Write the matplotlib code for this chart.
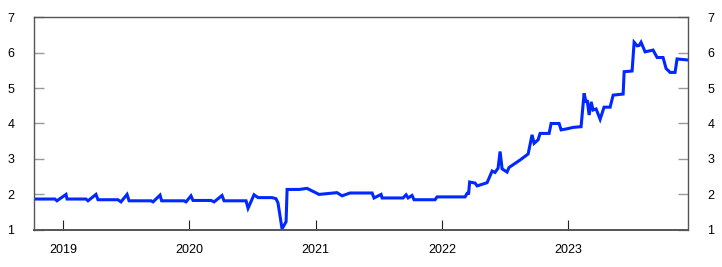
import numpy as np
import matplotlib
matplotlib.use("Agg")
import matplotlib.pyplot as plt

plt.rcParams['font.family'] = ['Liberation Sans', 'DejaVu Sans']

# time as decimal years, value in percent
years = [2018.770, 2018.936, 2018.952, 2019.024, 2019.032, 2019.182, 2019.198, 2019.261, 2019.277,
         2019.435, 2019.459, 2019.507, 2019.523, 2019.697, 2019.713, 2019.768, 2019.781, 2019.958,
         2019.974, 2020.013, 2020.029, 2020.172, 2020.196, 2020.259, 2020.275, 2020.449, 2020.465,
         2020.512, 2020.544, 2020.655, 2020.686, 2020.702, 2020.734, 2020.766, 2020.774, 2020.869,
         2020.932, 2021.027, 2021.169, 2021.209, 2021.272, 2021.447, 2021.462, 2021.518, 2021.526,
         2021.692, 2021.716, 2021.732, 2021.763, 2021.779, 2021.945, 2021.961, 2022.183, 2022.199,
         2022.211, 2022.219, 2022.262, 2022.278, 2022.357, 2022.397, 2022.420, 2022.444, 2022.460,
         2022.476, 2022.515, 2022.531, 2022.618, 2022.682, 2022.713, 2022.729, 2022.761, 2022.777,
         2022.848, 2022.864, 2022.927, 2022.943, 2022.990, 2023.038, 2023.101, 2023.125, 2023.141,
         2023.149, 2023.165, 2023.181, 2023.196, 2023.220, 2023.252, 2023.283, 2023.331, 2023.355,
         2023.434, 2023.442, 2023.505, 2023.521, 2023.545, 2023.561, 2023.576, 2023.608, 2023.671,
         2023.703, 2023.750, 2023.774, 2023.806, 2023.845, 2023.861, 2023.948]
values = [1.87, 1.87, 1.82, 2.00, 1.87, 1.87, 1.82, 2.00, 1.85,
          1.85, 1.79, 2.00, 1.82, 1.82, 1.79, 1.98, 1.82, 1.82,
          1.79, 1.96, 1.83, 1.83, 1.79, 1.97, 1.82, 1.82, 1.61,
          1.99, 1.91, 1.91, 1.88, 1.76, 1.03, 1.23, 2.14, 2.14,
          2.17, 2.00, 2.05, 1.96, 2.04, 2.04, 1.90, 2.00, 1.90,
          1.90, 1.99, 1.90, 1.97, 1.85, 1.85, 1.93, 1.93, 2.03,
          2.03, 2.35, 2.32, 2.24, 2.33, 2.66, 2.62, 2.74, 3.21,
          2.72, 2.63, 2.76, 2.97, 3.14, 3.68, 3.44, 3.54, 3.72,
          3.72, 4.00, 4.00, 3.82, 3.85, 3.89, 3.91, 4.85, 4.59,
          4.66, 4.24, 4.61, 4.38, 4.41, 4.12, 4.46, 4.46, 4.80,
          4.83, 5.46, 5.48, 6.29, 6.19, 6.20, 6.29, 6.02, 6.07,
          5.86, 5.86, 5.55, 5.44, 5.44, 5.82, 5.79]

year_ticks = [2019, 2020, 2021, 2022, 2023]
year_labels = ['2019', '2020', '2021', '2022', '2023']
y_ticks = [1, 2, 3, 4, 5, 6, 7]

fig = plt.figure(figsize=(7.22, 2.67), dpi=100)
ax = fig.add_axes([0.047, 0.139, 0.906, 0.797])

ax.plot(years, values, color='#0028ff', linewidth=2.2, solid_joinstyle='miter')

ax.set_xlim(2018.770, 2023.948)
ax.set_ylim(1, 7)
ax.set_xticks(year_ticks)
ax.set_xticklabels(year_labels)
ax.set_yticks(y_ticks)

for s in ax.spines.values():
    s.set_color('#555555')
    s.set_linewidth(1.0)
ax.spines['bottom'].set_linewidth(1.4)

ax.tick_params(axis='x', direction='in', length=7, width=0.8, color='#222222',
               labelsize=9, pad=10, top=False)
ax.tick_params(axis='y', direction='in', length=7, width=1.0, color='#999999',
               labelsize=9, pad=14, left=True, right=True, labelleft=True, labelright=True)

fig.savefig('out.png', dpi=100)
